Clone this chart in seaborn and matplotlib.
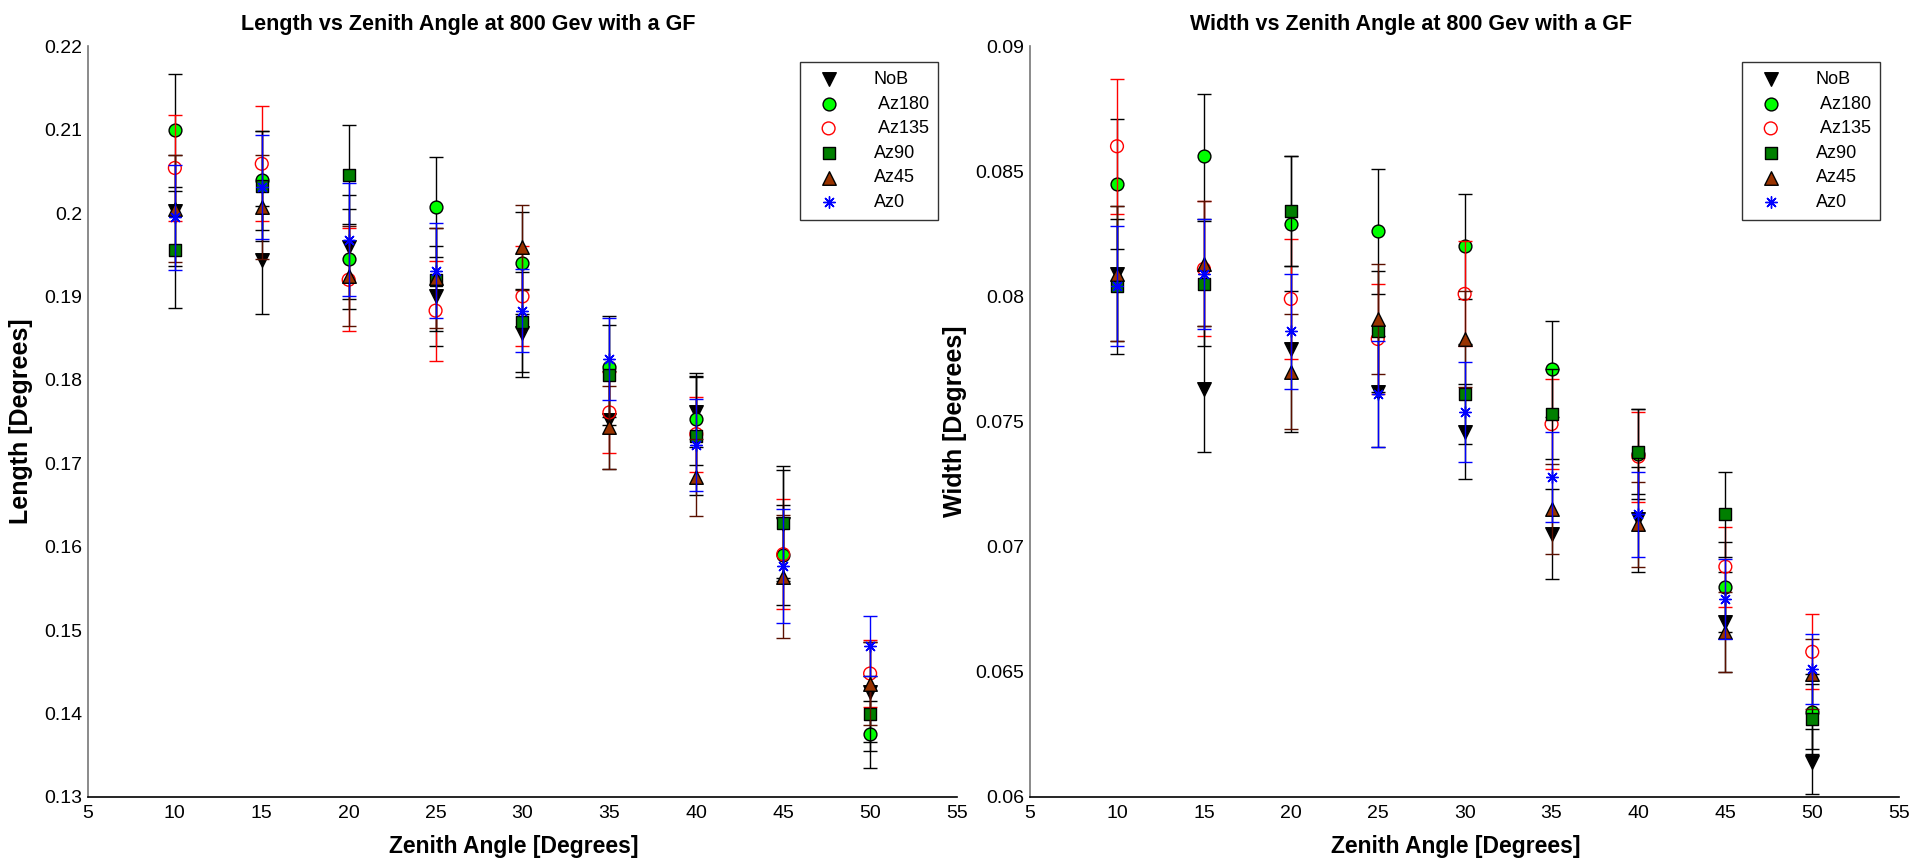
import numpy as np
import pandas as pd
import matplotlib
matplotlib.use("Agg")
import matplotlib.pyplot as plt
import seaborn as sns

sns.set_style("white")
plt.rcParams['font.family'] = ['Liberation Sans', 'DejaVu Sans']
plt.rcParams['text.color'] = 'black'
plt.rcParams['axes.labelcolor'] = 'black'
plt.rcParams['xtick.color'] = 'black'
plt.rcParams['ytick.color'] = 'black'

zenith = [10, 15, 20, 25, 30, 35, 40, 45, 50]
series = ["NoB", " Az180", " Az135", "Az90", "Az45", "Az0"]

# length [deg]
len_nob = [0.2003, 0.1944, 0.1959, 0.1900, 0.1856, 0.1752, 0.1762, 0.1627, 0.1426]
len_az180 = [0.2099, 0.2039, 0.1945, 0.2007, 0.1940, 0.1816, 0.1753, 0.1590, 0.1375]
len_az135 = [0.2054, 0.2059, 0.1920, 0.1883, 0.1900, 0.1761, 0.1735, 0.1591, 0.1448]
len_az90 = [0.1956, 0.2032, 0.2046, 0.1920, 0.1869, 0.1806, 0.1733, 0.1628, 0.1400]
len_az45 = [0.2005, 0.2007, 0.1924, 0.1922, 0.1959, 0.1743, 0.1683, 0.1564, 0.1436]
len_az0 = [0.1995, 0.2031, 0.1968, 0.1931, 0.1883, 0.1825, 0.1722, 0.1577, 0.1481]

len_err_nob = [0.0066, 0.0065, 0.0062, 0.0060, 0.0053, 0.0059, 0.0043, 0.0065, 0.0060]
len_err_az180 = [0.0068, 0.0059, 0.0060, 0.0060, 0.0061, 0.0060, 0.0055, 0.0060, 0.0040]
len_err_az135 = [0.0064, 0.0069, 0.0062, 0.0060, 0.0060, 0.0049, 0.0045, 0.0066, 0.0040]
len_err_az90 = [0.0070, 0.0066, 0.0059, 0.0062, 0.0060, 0.0060, 0.0071, 0.0069, 0.0045]
len_err_az45 = [0.0064, 0.0062, 0.0060, 0.0060, 0.0051, 0.0050, 0.0046, 0.0074, 0.0050]
len_err_az0 = [0.0063, 0.0062, 0.0068, 0.0057, 0.0050, 0.0049, 0.0055, 0.0068, 0.0036]

# width [deg]
wid_nob = [0.0809, 0.0763, 0.0779, 0.0762, 0.0746, 0.0705, 0.0711, 0.0670, 0.0614]
wid_az180 = [0.0845, 0.0856, 0.0829, 0.0826, 0.0820, 0.0771, 0.0737, 0.0684, 0.0634]
wid_az135 = [0.0860, 0.0811, 0.0799, 0.0783, 0.0801, 0.0749, 0.0736, 0.0692, 0.0658]
wid_az90 = [0.0804, 0.0805, 0.0834, 0.0786, 0.0761, 0.0753, 0.0738, 0.0713, 0.0631]
wid_az45 = [0.0809, 0.0813, 0.0770, 0.0791, 0.0783, 0.0715, 0.0709, 0.0666, 0.0649]
wid_az0 = [0.0804, 0.0809, 0.0786, 0.0761, 0.0754, 0.0728, 0.0713, 0.0679, 0.0651]

wid_err_nob = [0.0027, 0.0025, 0.0033, 0.0022, 0.0019, 0.0018, 0.0021, 0.0020, 0.0013]
wid_err_az180 = [0.0026, 0.0025, 0.0027, 0.0025, 0.0021, 0.0019, 0.0018, 0.0018, 0.0015]
wid_err_az135 = [0.0027, 0.0027, 0.0024, 0.0022, 0.0021, 0.0018, 0.0018, 0.0016, 0.0015]
wid_err_az90 = [0.0027, 0.0025, 0.0022, 0.0024, 0.0020, 0.0018, 0.0017, 0.0017, 0.0014]
wid_err_az45 = [0.0027, 0.0025, 0.0023, 0.0022, 0.0019, 0.0018, 0.0017, 0.0016, 0.0014]
wid_err_az0 = [0.0024, 0.0022, 0.0023, 0.0021, 0.0020, 0.0018, 0.0017, 0.0016, 0.0014]

length_vals = [len_nob, len_az180, len_az135, len_az90, len_az45, len_az0]
length_errs = [len_err_nob, len_err_az180, len_err_az135, len_err_az90, len_err_az45, len_err_az0]
width_vals = [wid_nob, wid_az180, wid_az135, wid_az90, wid_az45, wid_az0]
width_errs = [wid_err_nob, wid_err_az180, wid_err_az135, wid_err_az90, wid_err_az45, wid_err_az0]

star = (8, 2, 0)
# marker, size, face, edge, edge width, errorbar colour
styles = [
    ("v", 95, "black", "black", 1.0, "black"),
    ("o", 85, "#00ff00", "black", 1.0, "black"),
    ("o", 85, "none", "red", 1.0, "red"),
    ("s", 70, "#007f00", "black", 1.0, "black"),
    ("^", 95, "#993300", "black", 1.0, "#5a1000"),
    (star, 70, "blue", "blue", 1.0, "blue"),
]


def panel(ax, vals, errs, ylim, yticks, title, ylabel, ylab_x):
    for i, name in enumerate(series):
        mk, sz, fc, ec, lw, erc = styles[i]
        df = pd.DataFrame({"zenith": zenith, "val": vals[i], "err": errs[i]})
        ax.errorbar(df["zenith"], df["val"], yerr=df["err"], fmt="none",
                    ecolor=erc, elinewidth=1.0, capsize=5, capthick=1.0,
                    zorder=2 * i + 2)
        sns.scatterplot(data=df, x="zenith", y="val", ax=ax, marker=mk, s=sz,
                        color=fc if fc != "none" else "red",
                        facecolor=fc, edgecolor=ec, linewidth=lw,
                        label=name, zorder=2 * i + 3)
    ax.set_xlim(5, 55)
    ax.set_ylim(*ylim)
    ax.set_xticks(range(5, 56, 5))
    ax.set_yticks(yticks)
    ax.set_yticklabels([("%g" % t) for t in yticks])
    ax.tick_params(direction="in", length=7, labelsize=14, width=1.0)
    ax.tick_params(axis="x", pad=6)
    ax.tick_params(axis="y", pad=4)
    for s in ["top", "right"]:
        ax.spines[s].set_visible(False)
    ax.spines["left"].set_color("#777777")
    ax.spines["bottom"].set_color("black")
    ax.spines["left"].set_linewidth(1.2)
    ax.spines["bottom"].set_linewidth(1.2)
    ax.set_title(title, fontsize=15.5, fontweight="bold", x=0.438, pad=12)
    ax.set_xlabel("Zenith Angle [Degrees]", fontsize=16.5, fontweight="bold")
    ax.xaxis.set_label_coords(0.49, -0.050)
    ax.set_ylabel(ylabel, fontsize=18, fontweight="bold")
    ax.yaxis.set_label_coords(ylab_x, 0.5)
    leg = ax.legend(loc="upper right", bbox_to_anchor=(0.978, 0.979),
                    fontsize=13, frameon=True, fancybox=False,
                    edgecolor="black", markerscale=1.0, handletextpad=1.4,
                    borderpad=0.5, labelspacing=0.42, borderaxespad=0.0,
                    handlelength=2.2)
    leg.get_frame().set_linewidth(1.0)
    leg.set_zorder(50)


fig = plt.figure(figsize=(19.33, 8.63), dpi=100)
ax1 = fig.add_axes([0.0455, 0.0765, 0.4496, 0.870])
ax2 = fig.add_axes([0.5329, 0.0765, 0.4496, 0.870])

panel(ax1, length_vals, length_errs, (0.13, 0.22),
      [0.13, 0.14, 0.15, 0.16, 0.17, 0.18, 0.19, 0.2, 0.21, 0.22],
      "Length vs Zenith Angle at 800 Gev with a GF", "Length [Degrees]", -0.063)
panel(ax2, width_vals, width_errs, (0.06, 0.09),
      [0.06, 0.065, 0.07, 0.075, 0.08, 0.085, 0.09],
      "Width vs Zenith Angle at 800 Gev with a GF", "Width [Degrees]", -0.0725)

fig.savefig("out.png", dpi=100)
